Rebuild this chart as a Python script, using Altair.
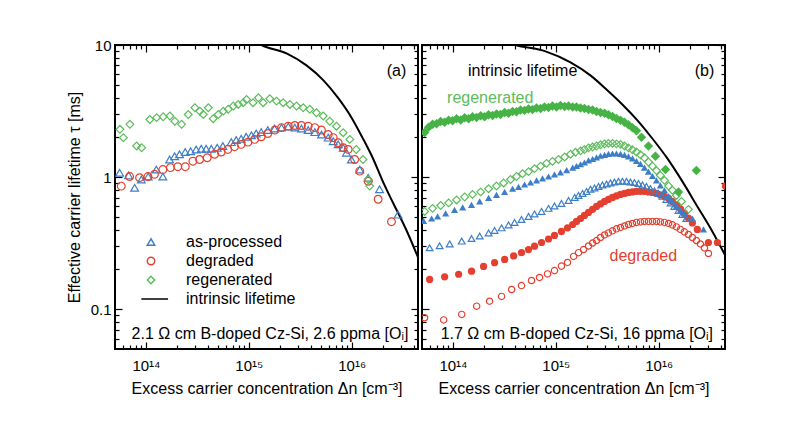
import altair as alt
import pandas as pd

FONT = "Liberation Sans"
BLUE = "#3d7fc6"
RED = "#e5402f"
GREEN = "#47b347"
GREEN_OPEN = "#5cbc5c"

# ---------------- panel (a): 2.1 Ohm cm, 2.6 ppma [Oi] ----------------
A_ASP_X = [5.55e13, 6.78e13, 7.76e13, 9.02e13, 1.05e14, 1.26e14, 1.46e14, 1.70e14, 1.90e14, 2.12e14,
           2.41e14, 2.72e14, 3.08e14, 3.45e14, 3.85e14, 4.32e14, 4.93e14, 5.60e14, 6.75e14, 7.55e14,
           8.43e14, 9.44e14, 1.06e15, 1.18e15, 1.32e15, 1.53e15, 1.78e15, 2.08e15, 2.42e15, 2.80e15,
           3.25e15, 3.78e15, 4.39e15, 5.09e15, 5.92e15, 6.62e15, 7.40e15, 8.28e15, 8.91e15, 9.95e15,
           1.20e16, 1.45e16, 1.87e16, 2.83e16]
A_ASP_T = [1.08, 1.03, 0.83, 0.96, 1.01, 1.14, 1.01, 1.36, 1.44, 1.49,
           1.55, 1.57, 1.62, 1.64, 1.64, 1.64, 1.67, 1.72, 1.84, 1.91,
           1.95, 2.02, 2.07, 2.14, 2.19, 2.27, 2.33, 2.37, 2.41, 2.37,
           2.33, 2.27, 2.19, 2.10, 1.99, 1.87, 1.77, 1.67, 1.53, 1.36,
           1.14, 0.99, 0.81, 0.52]

A_DEG_X = [5.75e13, 6.93e13, 8.67e13, 1.045e14, 1.21e14, 1.46e14, 1.73e14, 2.04e14, 2.41e14, 2.86e14,
           3.32e14, 3.94e14, 4.65e14, 5.40e14, 6.25e14, 7.26e14, 8.43e14, 9.79e14, 1.14e15, 1.32e15,
           1.53e15, 1.79e15, 2.08e15, 2.42e15, 2.80e15, 3.25e15, 3.78e15, 4.39e15, 5.09e15, 5.92e15,
           6.62e15, 7.40e15, 8.28e15, 9.25e15, 1.07e16, 1.20e16, 1.45e16, 1.81e16, 2.44e16]
A_DEG_T = [0.855, 1.01, 0.99, 1.01, 1.05, 1.14, 1.18, 1.20, 1.20, 1.32,
           1.36, 1.40, 1.49, 1.55, 1.62, 1.70, 1.77, 1.84, 1.93, 2.02,
           2.14, 2.27, 2.37, 2.43, 2.46, 2.46, 2.43, 2.37, 2.27, 2.10,
           1.99, 1.82, 1.67, 1.62, 1.36, 1.11, 0.93, 0.68, 0.46]

A_REG_X = [5.58e13, 6.03e13, 6.98e13, 8.11e13, 9.08e13, 1.09e14, 1.27e14, 1.47e14, 1.71e14, 1.91e14,
           2.22e14, 2.58e14, 2.99e14, 3.34e14, 3.61e14, 4.04e14, 4.51e14, 5.05e14, 5.65e14, 6.31e14,
           7.06e14, 7.89e14, 8.83e14, 9.51e14, 1.10e15, 1.24e15, 1.38e15, 1.60e15, 1.86e15, 2.16e15,
           2.51e15, 2.91e15, 3.38e15, 3.92e15, 4.55e15, 5.29e15, 6.13e15, 7.12e15, 8.28e15, 9.60e15,
           1.11e16, 1.29e16, 1.45e16, 1.50e16]
A_REG_T = [2.30, 1.99, 2.51, 1.72, 1.67, 2.73, 2.82, 2.86, 2.90, 2.65,
           2.51, 2.98, 3.35, 3.16, 2.98, 3.35, 2.77, 2.98, 3.16, 3.26,
           3.45, 3.55, 3.66, 3.87, 3.66, 3.99, 3.66, 3.92, 3.76, 3.66,
           3.55, 3.45, 3.35, 3.26, 3.07, 2.90, 2.65, 2.43, 2.17, 1.93,
           1.62, 1.36, 0.96, 0.855]

A_INT_X = [1.0e15, 1.33e15, 2.33e15, 3.64e15, 5.32e15, 7.45e15, 9.95e15, 1.27e16, 1.63e16, 1.99e16,
           2.38e16, 2.83e16, 3.49e16, 4.42e16]
A_INT_T = [11.5, 10.0, 8.64, 7.01, 5.40, 3.94, 2.83, 2.00, 1.36, 0.944,
           0.702, 0.536, 0.381, 0.247]

# ---------------- panel (b): 1.7 Ohm cm, 16 ppma [Oi] ----------------
B_REGF_X = [5.30e13, 5.80e13, 6.34e13, 6.93e13, 7.59e13, 8.30e13, 9.08e13, 9.91e13, 1.085e14, 1.19e14,
            1.30e14, 1.42e14, 1.55e14, 1.70e14, 1.86e14, 2.03e14, 2.22e14, 2.43e14, 2.65e14, 2.90e14,
            3.18e14, 3.47e14, 3.80e14, 4.15e14, 4.54e14, 4.97e14, 5.43e14, 5.94e14, 6.50e14, 7.11e14,
            7.77e14, 8.50e14, 9.29e14, 1.016e15, 1.11e15, 1.22e15, 1.33e15, 1.46e15, 1.59e15, 1.74e15,
            1.90e15, 2.08e15, 2.28e15, 2.49e15, 2.72e15, 2.98e15, 3.25e15, 3.56e15, 3.89e15, 4.26e15,
            4.66e15, 5.09e15, 5.57e15, 6.09e15, 6.81e15, 7.96e15, 9.31e15, 1.166e16, 1.56e16, 2.33e16]
B_REGF_T = [2.18, 2.38, 2.51, 2.53, 2.64, 2.60, 2.69, 2.67, 2.76, 2.71,
            2.81, 2.76, 2.86, 2.83, 2.91, 2.86, 2.96, 2.93, 3.01, 2.98,
            3.09, 3.04, 3.14, 3.12, 3.22, 3.20, 3.28, 3.25, 3.34, 3.31,
            3.40, 3.37, 3.46, 3.40, 3.49, 3.43, 3.46, 3.40, 3.40, 3.34,
            3.31, 3.25, 3.22, 3.14, 3.09, 3.04, 2.96, 2.88, 2.78, 2.69,
            2.60, 2.49, 2.36, 2.24, 2.00, 1.72, 1.44, 1.14, 0.77, 1.12]

B_REGO_X = [5.30e13, 6.34e13, 7.59e13, 9.08e13, 1.085e14, 1.30e14, 1.55e14, 1.86e14, 2.22e14, 2.65e14,
            3.11e14, 3.63e14, 4.15e14, 4.75e14, 5.43e14, 6.21e14, 7.11e14, 8.13e14, 9.29e14, 1.062e15,
            1.22e15, 1.39e15, 1.555e15, 1.74e15, 1.90e15, 2.08e15, 2.28e15, 2.49e15, 2.72e15, 2.98e15,
            3.25e15, 3.56e15, 3.89e15, 4.26e15, 4.66e15, 5.09e15, 5.57e15, 6.09e15, 6.66e15, 7.28e15,
            7.96e15, 8.71e15, 9.53e15, 1.04e16, 1.14e16, 1.25e16, 1.36e16, 1.49e16, 1.667e16, 1.95e16]
B_REGO_T = [0.55, 0.58, 0.61, 0.638, 0.672, 0.708, 0.74, 0.773, 0.816, 0.857,
            0.904, 0.96, 1.01, 1.06, 1.10, 1.16, 1.21, 1.27, 1.315, 1.36,
            1.42, 1.49, 1.54, 1.58, 1.62, 1.665, 1.69, 1.72, 1.755, 1.785,
            1.80, 1.80, 1.785, 1.77, 1.72, 1.665, 1.61, 1.55, 1.475, 1.40,
            1.30, 1.21, 1.12, 1.03, 0.945, 0.857, 0.795, 0.727, 0.655, 0.57]

B_ASPF_X = [5.18e13, 6.20e13, 7.09e13, 8.49e13, 1.036e14, 1.244e14, 1.516e14, 1.82e14, 2.22e14, 2.65e14,
            3.18e14, 3.80e14, 4.34e14, 4.97e14, 5.68e14, 6.50e14, 7.43e14, 8.50e14, 9.71e14, 1.11e15,
            1.276e15, 1.46e15, 1.59e15, 1.74e15, 1.90e15, 2.08e15, 2.28e15, 2.49e15, 2.72e15, 2.98e15,
            3.25e15, 3.56e15, 3.89e15, 4.26e15, 4.66e15, 5.09e15, 5.57e15, 6.09e15, 6.66e15, 7.28e15,
            7.96e15, 8.71e15, 9.53e15, 1.04e16, 1.14e16, 1.25e16, 1.36e16, 1.49e16, 1.63e16, 1.78e16,
            2.13e16, 2.73e16]
B_ASPF_T = [0.466, 0.486, 0.504, 0.531, 0.565, 0.59, 0.616, 0.655, 0.696, 0.733,
            0.773, 0.816, 0.843, 0.88, 0.91, 0.945, 0.978, 1.01, 1.05, 1.085,
            1.13, 1.18, 1.215, 1.25, 1.29, 1.34, 1.37, 1.41, 1.45, 1.475,
            1.50, 1.51, 1.51, 1.50, 1.475, 1.435, 1.385, 1.325, 1.26, 1.18,
            1.10, 1.02, 0.945, 0.865, 0.795, 0.72, 0.655, 0.60, 0.56, 0.531,
            0.486, 0.402]

B_ASPO_X = [5.93e13, 7.42e13, 9.29e13, 1.217e14, 1.516e14, 1.82e14, 2.22e14, 2.54e14, 2.97e14, 3.47e14,
            3.97e14, 4.64e14, 5.43e14, 6.21e14, 7.27e14, 8.50e14, 9.71e14, 1.135e15, 1.33e15, 1.527e15,
            1.663e15, 1.82e15, 1.99e15, 2.175e15, 2.38e15, 2.60e15, 2.84e15, 3.12e15, 3.40e15, 3.72e15,
            4.07e15, 4.45e15, 4.87e15, 5.32e15, 5.82e15, 6.37e15, 6.96e15, 7.61e15, 8.32e15, 9.11e15,
            9.97e15, 1.088e16, 1.19e16, 1.307e16, 1.42e16, 1.56e16, 1.70e16, 1.86e16]
B_ASPO_T = [0.292, 0.302, 0.312, 0.328, 0.343, 0.358, 0.378, 0.395, 0.413, 0.435,
            0.454, 0.478, 0.504, 0.526, 0.55, 0.58, 0.605, 0.632, 0.666, 0.702,
            0.727, 0.753, 0.78, 0.81, 0.828, 0.85, 0.872, 0.887, 0.903, 0.918,
            0.93, 0.93, 0.93, 0.918, 0.91, 0.895, 0.872, 0.85, 0.82, 0.786,
            0.753, 0.715, 0.678, 0.638, 0.60, 0.56, 0.522, 0.486]

B_DEGF_X = [5.93e13, 8.30e13, 1.135e14, 1.516e14, 1.985e14, 2.54e14, 3.18e14, 3.89e14, 4.64e14, 5.43e14,
            6.21e14, 7.27e14, 8.50e14, 9.71e14, 1.135e15, 1.30e15, 1.46e15, 1.59e15, 1.74e15, 1.90e15,
            2.08e15, 2.28e15, 2.49e15, 2.72e15, 2.98e15, 3.25e15, 3.56e15, 3.89e15, 4.26e15, 4.66e15,
            5.09e15, 5.57e15, 6.09e15, 6.66e15, 7.28e15, 7.96e15, 8.71e15, 9.53e15, 1.04e16, 1.14e16,
            1.25e16, 1.36e16, 1.49e16, 1.63e16, 1.78e16, 1.95e16, 2.13e16, 2.38e16, 3.05e16, 3.73e16,
            4.47e16]
B_DEGF_T = [0.168, 0.176, 0.184, 0.194, 0.211, 0.225, 0.238, 0.253, 0.268, 0.283,
            0.300, 0.320, 0.340, 0.362, 0.388, 0.413, 0.438, 0.462, 0.486, 0.513,
            0.54, 0.57, 0.60, 0.627, 0.655, 0.678, 0.702, 0.72, 0.74, 0.753,
            0.766, 0.773, 0.78, 0.78, 0.78, 0.773, 0.766, 0.753, 0.733, 0.715,
            0.69, 0.655, 0.616, 0.575, 0.531, 0.49, 0.45, 0.402, 0.32, 0.32,
            0.855]

B_DEGO_X = [5.30e13, 8.12e13, 1.217e14, 1.70e14, 2.27e14, 2.97e14, 3.72e14, 4.64e14, 5.81e14, 6.95e14,
            8.31e14, 9.71e14, 1.135e15, 1.30e15, 1.49e15, 1.663e15, 1.86e15, 2.08e15, 2.28e15, 2.49e15,
            2.72e15, 2.98e15, 3.25e15, 3.56e15, 3.89e15, 4.26e15, 4.66e15, 5.09e15, 5.57e15, 6.09e15,
            6.66e15, 7.28e15, 7.96e15, 8.71e15, 9.53e15, 1.04e16, 1.14e16, 1.25e16, 1.36e16, 1.49e16,
            1.63e16, 1.78e16, 1.95e16, 2.13e16, 2.33e16, 2.55e16, 2.79e16, 3.05e16]
B_DEGO_T = [0.0862, 0.0830, 0.0914, 0.1055, 0.115, 0.125, 0.141, 0.151, 0.165, 0.174,
            0.185, 0.196, 0.212, 0.226, 0.251, 0.268, 0.283, 0.301, 0.317, 0.331,
            0.349, 0.365, 0.378, 0.392, 0.406, 0.416, 0.427, 0.438, 0.446, 0.454,
            0.458, 0.462, 0.462, 0.462, 0.462, 0.458, 0.454, 0.446, 0.435, 0.42,
            0.402, 0.385, 0.368, 0.349, 0.331, 0.312, 0.291, 0.264]

B_INT_X = [3.0e14, 4.06e14, 7.94e14, 1.39e15, 2.17e15, 3.11e15, 4.44e15, 6.22e15, 8.69e15, 1.216e16,
           1.70e16, 2.38e16, 3.33e16, 4.45e16]
B_INT_T = [10.8, 10.0, 8.95, 7.39, 5.89, 4.61, 3.55, 2.69, 1.96, 1.385,
           0.928, 0.600, 0.388, 0.255]

# ---------------- axes ----------------
X_DOMAIN = [5.0e13, 4.42e16]
Y_DOMAIN = [0.05, 10.0]
X_MAJOR = [1e14, 1e15, 1e16]
X_MINOR = [6e13, 7e13, 8e13, 9e13,
           2e14, 3e14, 4e14, 5e14, 6e14, 7e14, 8e14, 9e14,
           2e15, 3e15, 4e15, 5e15, 6e15, 7e15, 8e15, 9e15,
           2e16, 3e16, 4e16]
Y_MAJOR = [0.1, 1.0, 10.0]
Y_MINOR = [0.06, 0.07, 0.08, 0.09, 0.2, 0.3, 0.4, 0.5, 0.6, 0.7, 0.8, 0.9,
           2, 3, 4, 5, 6, 7, 8, 9]

LEGEND_NAMES = ["as-processed", "degraded", "regenerated", "intrinsic lifetime"]
LEGEND_COLORS = [BLUE, RED, GREEN_OPEN, "black"]
LEGEND_SHAPES = ["triangle-up", "circle", "diamond", "M-2.6,0L4.6,0"]

W, H = 303, 304
MAJ, MIN = 7, 4

xs = alt.Scale(type="log", domain=X_DOMAIN, nice=False)
ys = alt.Scale(type="log", domain=Y_DOMAIN, nice=False)
DUMMY = pd.DataFrame({"x": [1e15], "t": [1.0]})


def frame(xv, tv):
    return pd.DataFrame({"x": xv, "t": tv})


def axis_layer(xaxis, yaxis):
    return alt.Chart(DUMMY).mark_point(opacity=0).encode(
        x=alt.X("x:Q", scale=xs, axis=xaxis),
        y=alt.Y("t:Q", scale=ys, axis=yaxis),
    )


def tick_axis(orient, values, size):
    return alt.Axis(orient=orient, values=values, labels=False, domain=False, grid=False,
                    ticks=True, tickSize=size, offset=-size, tickColor="black", tickWidth=1.2,
                    title="", minExtent=0)


X_LABEL_EXPR = ("datum.value == 1e14 ? '10\u00b9\u2074' : datum.value == 1e15 ? "
                "'10\u00b9\u2075' : '10\u00b9\u2076'")


def axes(show_y):
    xlab = alt.Axis(orient="bottom", values=X_MAJOR, labelExpr=X_LABEL_EXPR, ticks=False,
                    tickSize=0, domain=False, grid=False, labelFont=FONT, labelFontSize=15,
                    labelColor="black", labelPadding=9, labelFlush=False,
                    title="Excess carrier concentration \u0394n [cm\u207b\u00b3]",
                    titleFont=FONT, titleFontSize=16, titleFontWeight="normal",
                    titleColor="black", titlePadding=7)
    ylab = None
    if show_y:
        ylab = alt.Axis(orient="left", values=Y_MAJOR, format="~g", ticks=False, tickSize=0,
                        domain=False, grid=False, labelFont=FONT, labelFontSize=15,
                        labelColor="black", labelPadding=4,
                        title="Effective carrier lifetime \u03c4 [ms]", titleFont=FONT,
                        titleFontSize=16, titleFontWeight="normal", titleColor="black",
                        titlePadding=8)
    layers = [axis_layer(xlab, ylab)]
    for size, xv, yv in [(MAJ, X_MAJOR, Y_MAJOR), (MIN, X_MINOR, Y_MINOR)]:
        layers.append(axis_layer(tick_axis("bottom", xv, size), tick_axis("left", yv, size)))
        layers.append(axis_layer(tick_axis("top", xv, size), tick_axis("right", yv, size)))
    return layers


def pts(df, color, shape, size, filled):
    return alt.Chart(df).mark_point(shape=shape, filled=filled, size=size, color=color,
                                    opacity=1, strokeWidth=1.2, clip=True).encode(
        x=alt.X("x:Q", scale=xs, axis=None),
        y=alt.Y("t:Q", scale=ys, axis=None),
    )


def curve(df):
    return alt.Chart(df).mark_line(color="black", strokeWidth=2, interpolate="monotone",
                                   clip=True).encode(
        x=alt.X("x:Q", scale=xs, axis=None),
        y=alt.Y("t:Q", scale=ys, axis=None),
    )


def label(x, t, text, color="black", align="left"):
    df = pd.DataFrame({"x": [x], "t": [t], "s": [text]})
    return alt.Chart(df).mark_text(font=FONT, fontSize=16, color=color, align=align,
                                   baseline="middle").encode(
        x=alt.X("x:Q", scale=xs, axis=None),
        y=alt.Y("t:Q", scale=ys, axis=None),
        text="s:N",
    )


# ---- panel (a) ----
dfa = pd.concat([
    frame(A_ASP_X, A_ASP_T).assign(series="as-processed"),
    frame(A_DEG_X, A_DEG_T).assign(series="degraded"),
    frame(A_REG_X, A_REG_T).assign(series="regenerated"),
])
leg = dict(orient="none", legendX=28, legendY=189, title=None, labelFont=FONT,
           labelFontSize=16, labelColor="black", symbolSize=55, symbolStrokeWidth=1.5,
           rowPadding=3, labelOffset=27, padding=0)
points_a = alt.Chart(dfa).mark_point(filled=False, size=60, opacity=1, strokeWidth=1.2,
                                      clip=True).encode(
    x=alt.X("x:Q", scale=xs, axis=None),
    y=alt.Y("t:Q", scale=ys, axis=None),
    color=alt.Color("series:N", scale=alt.Scale(domain=LEGEND_NAMES, range=LEGEND_COLORS),
                    legend=alt.Legend(**leg)),
    shape=alt.Shape("series:N", scale=alt.Scale(domain=LEGEND_NAMES, range=LEGEND_SHAPES),
                    legend=alt.Legend(**leg)),
)

panel_a = alt.layer(
    *axes(True),
    curve(frame(A_INT_X, A_INT_T)),
    points_a,
    label(2.73e16, 6.4, "(a)", align="center"),
    label(7.24e13, 0.0645, "2.1 \u03a9 cm B-doped Cz-Si, 2.6 ppma [O\u1d62]"),
).resolve_axis(x="independent", y="independent").properties(width=W, height=H)

# ---- panel (b) ----
panel_b = alt.layer(
    *axes(False),
    curve(frame(B_INT_X, B_INT_T)),
    pts(frame(B_DEGO_X, B_DEGO_T), RED, "circle", 40, False),
    pts(frame(B_DEGF_X, B_DEGF_T), RED, "circle", 52, True),
    pts(frame(B_ASPO_X, B_ASPO_T), BLUE, "triangle-up", 45, False),
    pts(frame(B_ASPF_X, B_ASPF_T), BLUE, "triangle-up", 50, True),
    pts(frame(B_REGO_X, B_REGO_T), GREEN_OPEN, "diamond", 60, False),
    pts(frame(B_REGF_X, B_REGF_T), GREEN, "diamond", 90, True),
    label(2.79e16, 6.4, "(b)", align="center"),
    label(1.40e14, 6.4, "intrinsic lifetime"),
    label(8.77e13, 3.94, "regenerated", color=GREEN_OPEN),
    label(3.33e15, 0.252, "degraded", color=RED),
    label(7.59e13, 0.0645, "1.7 \u03a9 cm B-doped Cz-Si, 16 ppma [O\u1d62]"),
).resolve_axis(x="independent", y="independent").properties(width=W, height=H)

chart = alt.hconcat(panel_a, panel_b, spacing=0).resolve_legend(
    color="independent", shape="independent"
).properties(
    padding={"left": 57, "top": 29, "right": 5, "bottom": 5},
    background="white",
).configure_view(stroke="black", strokeWidth=2)

chart.save("out.html", embed_options={"renderer": "svg", "actions": False})
